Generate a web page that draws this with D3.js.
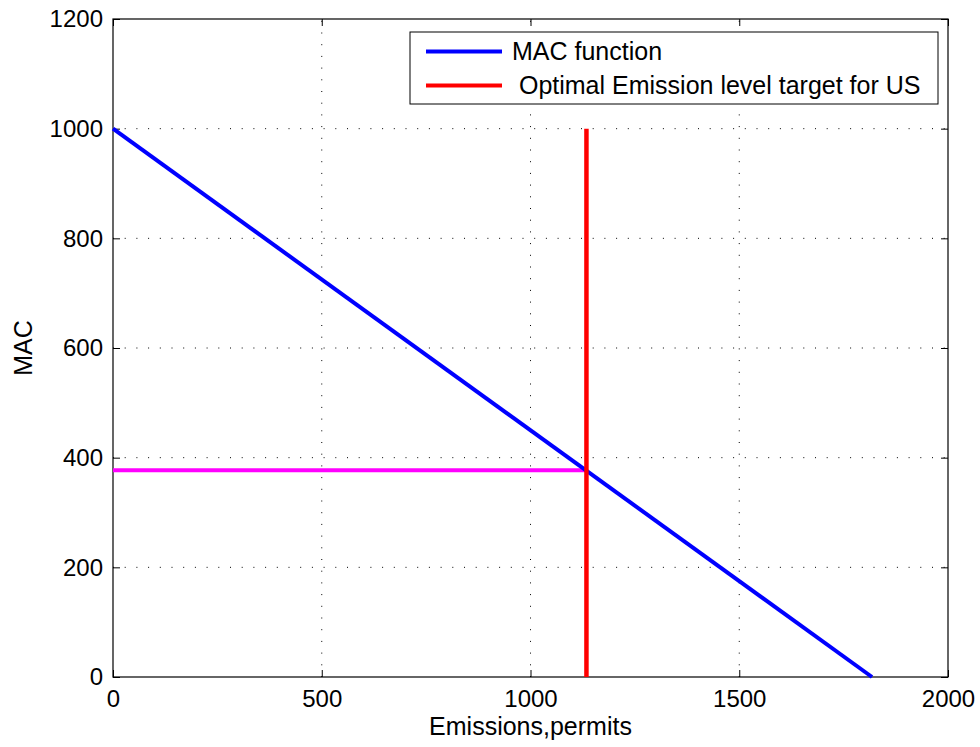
<!DOCTYPE html>
<html><head><meta charset="utf-8">
<script src="https://d3js.org/d3.v7.min.js"></script>
<style>body{margin:0;background:#fff}text{font-family:"Liberation Sans",Arial,sans-serif}</style>
</head><body>
<svg id="c" width="980" height="747"></svg>
<script>
const xTicks = [0, 500, 1000, 1500, 2000];
const yTicks = [0, 200, 400, 600, 800, 1000, 1200];
const macX = [0, 1818];
const macY = [1000, 0];
const targetX = [1134, 1134];
const targetY = [0, 1000];
const priceX = [0, 1134];
const priceY = [377, 377];
const legendLabels = ["MAC function", " Optimal Emission level target for US"];
const legendColors = ["#0000ff", "#ff0000"];

const svg = d3.select("#c");
const L = 113, R = 948, T = 19, B = 677;
const x = d3.scaleLinear().domain([0, 2000]).range([L, R]);
const y = d3.scaleLinear().domain([0, 1200]).range([B, T]);

svg.append("rect").attr("x",0).attr("y",0).attr("width",980).attr("height",747).attr("fill","#fff");

// grid
const g = svg.append("g");
g.selectAll(".gx").data(xTicks.slice(1,-1)).enter().append("line")
  .attr("x1",d=>x(d)).attr("x2",d=>x(d)).attr("y1",B).attr("y2",T)
  .attr("stroke","#000").attr("stroke-width",1).attr("stroke-dasharray","1,10.7");
g.selectAll(".gy").data(yTicks.slice(1,-1)).enter().append("line")
  .attr("y1",d=>y(d)).attr("y2",d=>y(d)).attr("x1",L).attr("x2",R)
  .attr("stroke","#000").attr("stroke-width",1).attr("stroke-dasharray","1,10.7");

// axes
const fs = 24;
const ax = svg.append("g").attr("transform",`translate(0,${B})`)
  .call(d3.axisBottom(x).tickValues(xTicks).tickSize(-7).tickPadding(13).tickFormat(d3.format("d")));
const axT = svg.append("g").attr("transform",`translate(0,${T})`)
  .call(d3.axisTop(x).tickValues(xTicks).tickSize(-7).tickFormat(""));
const ay = svg.append("g").attr("transform",`translate(${L},0)`)
  .call(d3.axisLeft(y).tickValues(yTicks).tickSize(-7).tickPadding(10).tickFormat(d3.format("d")));
const ayR = svg.append("g").attr("transform",`translate(${R},0)`)
  .call(d3.axisRight(y).tickValues(yTicks).tickSize(-7).tickFormat(""));
[ax,axT,ay,ayR].forEach(a=>{
  a.select(".domain").remove();
  a.selectAll("line").attr("stroke","#000");
  a.selectAll("text").attr("font-size",fs).attr("fill","#000").style("font-family","'Liberation Sans',Arial,sans-serif");
});
svg.append("rect").attr("x",L).attr("y",T).attr("width",R-L).attr("height",B-T)
  .attr("fill","none").attr("stroke","#000").attr("stroke-width",1.2);

// lines
const line = d3.line().x(d=>x(d[0])).y(d=>y(d[1]));
svg.append("path").datum(priceX.map((v,i)=>[v,priceY[i]])).attr("d",line)
  .attr("stroke","#ff00ff").attr("stroke-width",4).attr("fill","none");
svg.append("path").datum(macX.map((v,i)=>[v,macY[i]])).attr("d",line)
  .attr("stroke","#0000ff").attr("stroke-width",4).attr("fill","none");
svg.append("path").datum(targetX.map((v,i)=>[v,targetY[i]])).attr("d",line)
  .attr("stroke","#ff0000").attr("stroke-width",4.5).attr("fill","none");

// labels
const lfs = 25;
svg.append("text").attr("x",(L+R)/2).attr("y",735).attr("text-anchor","middle")
  .attr("font-size",lfs).text("Emissions,permits");
svg.append("text").attr("transform",`translate(32,${(T+B)/2}) rotate(-90)`).attr("text-anchor","middle")
  .attr("font-size",lfs).text("MAC");

// legend
const lg = svg.append("g");
lg.append("rect").attr("x",410).attr("y",32).attr("width",528).attr("height",72)
  .attr("fill","#fff").attr("stroke","#000").attr("stroke-width",1);
legendLabels.forEach((t,i)=>{
  const yy = 51.5 + i*34;
  lg.append("line").attr("x1",426).attr("x2",502).attr("y1",yy).attr("y2",yy)
    .attr("stroke",legendColors[i]).attr("stroke-width",4);
  lg.append("text").attr("x",512).attr("y",yy+8.5).attr("font-size",lfs)
    .attr("xml:space","preserve").style("white-space","pre").text(t);
});
</script>
</body></html>
